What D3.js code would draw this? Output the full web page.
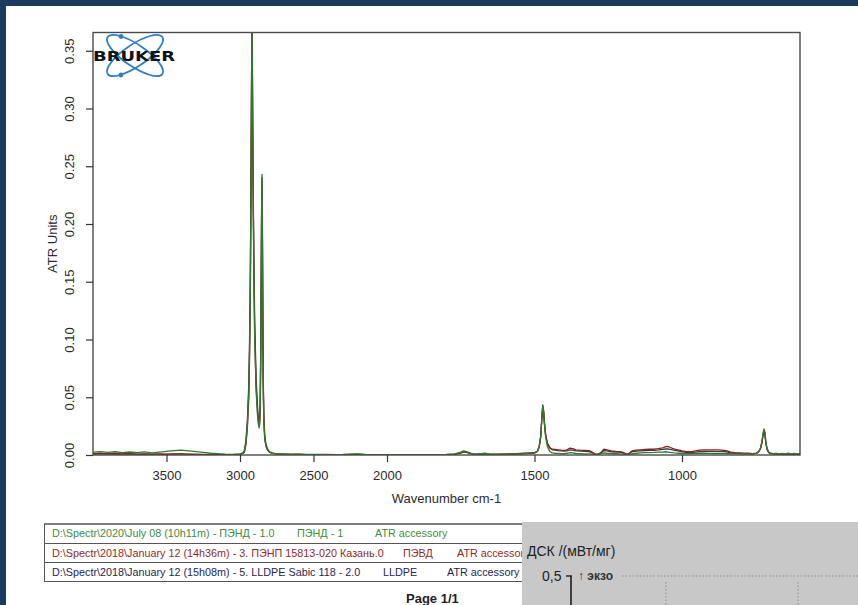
<!DOCTYPE html>
<html>
<head>
<meta charset="utf-8">
<script src="https://cdn.jsdelivr.net/npm/d3@7"></script>
<style>
  html, body { margin: 0; padding: 0; background: #1b3a5f; }
  svg { display: block; font-family: "Liberation Sans", Arial, sans-serif; }
</style>
</head>
<body>
<svg id="page" width="858" height="605"></svg>
<script>
// ---- Spectra: shared wavenumber grid (cm-1) and absorbance per sample ----
const wavenumbers = [
  4000, 3950, 3900, 3850, 3800, 3750, 3700, 3650, 3600, 3550,
  3500, 3450, 3400, 3350, 3300, 3250, 3200, 3150, 3100, 3050,
  3000, 2980, 2970, 2960, 2950, 2940, 2935, 2930, 2926, 2922,
  2919, 2916, 2912, 2906, 2900, 2890, 2880, 2874, 2870, 2866,
  2862, 2858, 2855, 2852, 2850, 2848, 2845, 2842, 2838, 2832,
  2824, 2812, 2800, 2780, 2750, 2700, 2650, 2600, 2550, 2500,
  2450, 2400, 2350, 2300, 2250, 2200, 2150, 2100, 2050, 2000,
  1950, 1900, 1850, 1800, 1770, 1750, 1740, 1730, 1715, 1700,
  1680, 1668, 1655, 1630, 1600, 1570, 1540, 1520, 1500, 1490,
  1484, 1479, 1475, 1472, 1469, 1466, 1462, 1456, 1448, 1440,
  1430, 1420, 1410, 1400, 1390, 1380, 1370, 1360, 1345, 1330,
  1315, 1305, 1295, 1285, 1275, 1265, 1255, 1240, 1225, 1210,
  1200, 1190, 1180, 1170, 1155, 1140, 1125, 1110, 1095, 1080,
  1065, 1055, 1048, 1040, 1025, 1010, 1000, 985, 970, 955,
  940, 925, 910, 895, 880, 865, 850, 835, 820, 805,
  790, 775, 760, 748, 740, 734, 729, 725, 722, 719,
  716, 712, 706, 698, 690, 680, 670, 660, 650, 640,
  630, 620, 610, 600
];

// ПЭНД - 1
const hdpe = [
  0.0025, 0.003, 0.0022, 0.0028, 0.002, 0.0026, 0.0021, 0.0027, 0.0018, 0.0025,
  0.0032, 0.0038, 0.0042, 0.0036, 0.003, 0.0022, 0.0015, 0.0012, 0.0008, 0.0006,
  0.001, 0.0018, 0.003, 0.01, 0.025, 0.055, 0.09, 0.14, 0.22, 0.31,
  0.38, 0.34, 0.25, 0.16, 0.10, 0.055, 0.033, 0.026, 0.0235, 0.027,
  0.045, 0.10, 0.17, 0.235, 0.243, 0.205, 0.125, 0.06, 0.03, 0.014,
  0.008, 0.004, 0.0025, 0.0015, 0.001, 0.0008, 0.0006, 0.0007, 0.0005, 0.0006,
  0.0005, 0.0006, 0.0004, 0.0005, 0.0008, 0.001, 0.0006, 0.0004, 0.0003, 0.0003,
  0.0003, 0.0004, 0.0003, 0.0005, 0.001, 0.0025, 0.0035, 0.003, 0.0015, 0.0008,
  0.0012, 0.0015, 0.001, 0.0008, 0.0006, 0.0008, 0.001, 0.0012, 0.0015, 0.003,
  0.007, 0.016, 0.033, 0.0435, 0.038, 0.026, 0.015, 0.007, 0.003, 0.0018,
  0.0015, 0.0014, 0.0012, 0.0012, 0.0015, 0.002, 0.0018, 0.0013, 0.0012, 0.001,
  0.001, 0.0008, 0.0006, 0.0006, 0.0012, 0.0018, 0.0015, 0.0012, 0.0011, 0.001,
  0.0008, 0.0006, 0.0006, 0.001, 0.0015, 0.0018, 0.002, 0.002, 0.0022, 0.0025,
  0.0025, 0.0028, 0.0025, 0.0022, 0.0018, 0.0015, 0.0012, 0.0012, 0.0013, 0.0014,
  0.0015, 0.0015, 0.0014, 0.0013, 0.0012, 0.0012, 0.0012, 0.0011, 0.001, 0.001,
  0.0009, 0.0009, 0.001, 0.0015, 0.003, 0.006, 0.012, 0.019, 0.0226, 0.02,
  0.012, 0.006, 0.0025, 0.0015, 0.0012, 0.0015, 0.0008, 0.0014, 0.001, 0.0016,
  0.0009, 0.0015, 0.001, 0.0013
];

// ПЭВД (ПЭНП 15813-020)
const ldpe = [
  0.0012, 0.0015, 0.001, 0.0014, 0.0009, 0.0012, 0.0008, 0.001, 0.0007, 0.0009,
  0.0008, 0.0009, 0.001, 0.0008, 0.0006, 0.0005, 0.0004, 0.0004, 0.0003, 0.0003,
  0.0006, 0.0012, 0.0025, 0.009, 0.023, 0.05, 0.085, 0.135, 0.21, 0.30,
  0.37, 0.335, 0.25, 0.165, 0.105, 0.058, 0.035, 0.028, 0.025, 0.028,
  0.046, 0.10, 0.165, 0.228, 0.236, 0.2, 0.125, 0.062, 0.031, 0.015,
  0.008, 0.0042, 0.0025, 0.0014, 0.0009, 0.0006, 0.0005, 0.0005, 0.0004, 0.0004,
  0.0004, 0.0004, 0.0003, 0.0004, 0.0005, 0.0006, 0.0004, 0.0003, 0.0002, 0.0002,
  0.0002, 0.0003, 0.0003, 0.0004, 0.0008, 0.002, 0.003, 0.0025, 0.0012, 0.0006,
  0.0009, 0.001, 0.0008, 0.0006, 0.0008, 0.001, 0.0015, 0.0018, 0.002, 0.0035,
  0.0075, 0.016, 0.032, 0.0425, 0.0375, 0.027, 0.017, 0.01, 0.0065, 0.005,
  0.0048, 0.0045, 0.0042, 0.004, 0.0045, 0.006, 0.0055, 0.0045, 0.0042, 0.004,
  0.0038, 0.0025, 0.001, 0.0008, 0.002, 0.005, 0.0045, 0.0035, 0.0032, 0.003,
  0.0022, 0.001, 0.0012, 0.0035, 0.0042, 0.0045, 0.0048, 0.005, 0.005, 0.0055,
  0.0062, 0.0072, 0.0075, 0.0065, 0.005, 0.0042, 0.0035, 0.003, 0.0028, 0.0035,
  0.0042, 0.0045, 0.0045, 0.0044, 0.0044, 0.0042, 0.0038, 0.0025, 0.002, 0.0018,
  0.0016, 0.0015, 0.0012, 0.0016, 0.003, 0.0055, 0.011, 0.018, 0.0215, 0.019,
  0.011, 0.0055, 0.0022, 0.0012, 0.001, 0.0009, 0.0008, 0.0008, 0.0007, 0.0008,
  0.0007, 0.0008, 0.0007, 0.0008
];

// LLDPE Sabic 118
const lldpe = [
  0.0008, 0.001, 0.0009, 0.0008, 0.0007, 0.0008, 0.0006, 0.0007, 0.0006, 0.0006,
  0.0006, 0.0007, 0.0007, 0.0006, 0.0005, 0.0004, 0.0004, 0.0003, 0.0003, 0.0003,
  0.0008, 0.0016, 0.004, 0.012, 0.03, 0.062, 0.1, 0.15, 0.225, 0.31,
  0.375, 0.34, 0.26, 0.175, 0.115, 0.065, 0.04, 0.031, 0.028, 0.031,
  0.05, 0.105, 0.17, 0.232, 0.24, 0.205, 0.13, 0.068, 0.035, 0.018,
  0.0095, 0.005, 0.003, 0.0016, 0.001, 0.0007, 0.0005, 0.0005, 0.0004, 0.0004,
  0.0004, 0.0004, 0.0003, 0.0004, 0.0004, 0.0005, 0.0004, 0.0003, 0.0002, 0.0002,
  0.0002, 0.0002, 0.0003, 0.0003, 0.0006, 0.0016, 0.0028, 0.0022, 0.001, 0.0005,
  0.0007, 0.0009, 0.0007, 0.0005, 0.0007, 0.0009, 0.0012, 0.0014, 0.0018, 0.0032,
  0.0072, 0.0155, 0.031, 0.042, 0.037, 0.027, 0.017, 0.0095, 0.006, 0.0045,
  0.0042, 0.0038, 0.0035, 0.0033, 0.0036, 0.0045, 0.0042, 0.0036, 0.0034, 0.0032,
  0.003, 0.002, 0.0008, 0.0006, 0.0015, 0.0038, 0.0035, 0.0028, 0.0026, 0.0025,
  0.0018, 0.0008, 0.001, 0.0028, 0.0034, 0.0036, 0.0038, 0.004, 0.0041, 0.0044,
  0.0048, 0.0052, 0.0053, 0.0048, 0.004, 0.0034, 0.0028, 0.0022, 0.002, 0.0024,
  0.003, 0.0032, 0.0032, 0.0031, 0.003, 0.003, 0.0028, 0.0018, 0.0015, 0.0014,
  0.0012, 0.0012, 0.001, 0.0014, 0.0028, 0.0052, 0.0105, 0.0175, 0.021, 0.0185,
  0.0105, 0.005, 0.002, 0.0011, 0.0009, 0.0008, 0.0007, 0.0007, 0.0006, 0.0007,
  0.0006, 0.0007, 0.0006, 0.0007
];

// ---- Axis ticks ----
const xTickValues = [3500, 3000, 2500, 2000, 1500, 1000];
const yTickValues = [0.00, 0.05, 0.10, 0.15, 0.20, 0.25, 0.30, 0.35];

// ---- Legend table rows ----
const legendFiles = [
  "D:\\Spectr\\2020\\July 08 (10h11m) - ПЭНД - 1.0",
  "D:\\Spectr\\2018\\January 12 (14h36m) - 3. ПЭНП 15813-020 Казань.0",
  "D:\\Spectr\\2018\\January 12 (15h08m) - 5. LLDPE Sabic 118 - 2.0"
];
const legendSamples = ["ПЭНД - 1", "ПЭВД", "LLDPE"];
const legendAccessories = ["ATR accessory", "ATR accessory", "ATR accessory"];

// ---- Drawing ----
const svg = d3.select("#page");
const colors = ["#3f8a3f", "#8e2a2a", "#26264e"];      // legend text per row
const lineColors = ["#2f7a2f", "#8a1e1e", "#3a3a48"];  // spectrum strokes per row
const seriesValues = [hdpe, ldpe, lldpe];

// page background (white sheet on navy)
svg.append("rect").attr("x", 0).attr("y", 0).attr("width", 858).attr("height", 605).attr("fill", "#1b3a5f");
svg.append("rect").attr("x", 6).attr("y", 6).attr("width", 852).attr("height", 599).attr("fill", "#ffffff");

const plot = { left: 93, right: 800, top: 32.5, bottom: 455 };

// OPUS-style x axis: 2000-4000 cm-1 compressed 2:1 relative to the region below 2000
const x = d3.scaleLinear()
  .domain([4000, 2000, 600])
  .range([plot.left, 387, plot.right]);
const y = d3.scaleLinear()
  .domain([0, 0.3658])
  .range([plot.bottom, plot.top]);

svg.append("clipPath").attr("id", "plotClip")
  .append("rect")
  .attr("x", plot.left).attr("y", plot.top)
  .attr("width", plot.right - plot.left).attr("height", plot.bottom - plot.top);

const line = d3.line()
  .x(d => x(d[0]))
  .y(d => y(d[1]));

const gLines = svg.append("g").attr("clip-path", "url(#plotClip)");
// draw LLDPE first, HDPE last so the green trace sits on top
[2, 1, 0].forEach(i => {
  const pts = wavenumbers.map((w, k) => [w, seriesValues[i][k]]);
  gLines.append("path")
    .datum(pts)
    .attr("d", line)
    .attr("fill", "none")
    .attr("stroke", lineColors[i])
    .attr("stroke-width", 1.3)
    .attr("stroke-linejoin", "round");
});

// frame
svg.append("rect")
  .attr("x", plot.left).attr("y", plot.top)
  .attr("width", plot.right - plot.left).attr("height", plot.bottom - plot.top)
  .attr("fill", "none").attr("stroke", "#4a4a4a").attr("stroke-width", 1.4);

// x axis
const gx = svg.append("g")
  .attr("transform", `translate(0,${plot.bottom})`)
  .call(d3.axisBottom(x).tickValues(xTickValues).tickSize(7).tickPadding(9).tickFormat(d3.format("d")));
gx.select(".domain").remove();
gx.selectAll(".tick line").attr("stroke", "#333").attr("stroke-width", 1.2);
gx.selectAll(".tick text").attr("fill", "#2a2a2a").style("font-size", "13px")
  .style("font-family", "'Liberation Sans', Arial, sans-serif");

// y axis (labels rotated, R style)
const gy = svg.append("g")
  .attr("transform", `translate(${plot.left},0)`)
  .call(d3.axisLeft(y).tickValues(yTickValues).tickSize(7).tickFormat(d3.format(".2f")));
gy.select(".domain").remove();
gy.selectAll(".tick line").attr("stroke", "#333").attr("stroke-width", 1.2);
gy.selectAll(".tick text")
  .attr("fill", "#2a2a2a").style("font-size", "13px")
  .style("font-family", "'Liberation Sans', Arial, sans-serif")
  .attr("x", null).attr("dy", null)
  .attr("text-anchor", "middle")
  .attr("transform", "translate(-24,0) rotate(-90)")
  .attr("dy", "0.35em");

// axis titles
svg.append("text")
  .attr("x", (plot.left + plot.right) / 2).attr("y", 503)
  .attr("text-anchor", "middle").attr("fill", "#2a2a2a").style("font-size", "13px")
  .text("Wavenumber cm-1");
svg.append("text")
  .attr("transform", `translate(57,${(plot.top + plot.bottom) / 2}) rotate(-90)`)
  .attr("text-anchor", "middle").attr("fill", "#2a2a2a").style("font-size", "13px")
  .text("ATR Units");

// Bruker logo
const logo = svg.append("g");
const lc = [135, 55.5];
[-34, 34].forEach(a => {
  logo.append("ellipse")
    .attr("cx", lc[0]).attr("cy", lc[1]).attr("rx", 33).attr("ry", 11)
    .attr("transform", `rotate(${a},${lc[0]},${lc[1]})`)
    .attr("fill", "none").attr("stroke", "#2f7fc6").attr("stroke-width", 1.8);
});
logo.append("circle").attr("cx", 121).attr("cy", 36.5).attr("r", 2.4).attr("fill", "#2f7fc6");
logo.append("circle").attr("cx", 121).attr("cy", 75).attr("r", 2.4).attr("fill", "#2f7fc6");
logo.append("text")
  .attr("x", 93).attr("y", 61)
  .attr("textLength", 82).attr("lengthAdjust", "spacingAndGlyphs")
  .style("font-family", "'DejaVu Sans', Arial, sans-serif")
  .style("font-weight", "bold").style("font-size", "14px")
  .attr("fill", "#111")
  .text("BRUKER");

// legend table
const rowTops = [524, 543.5, 562.5, 581.5];
const sampleX = [297, 403, 383];
const accessoryX = [375, 457, 447];
const tbl = svg.append("g");
rowTops.forEach((ry, i) => {
  tbl.append("line").attr("x1", 44).attr("x2", 560).attr("y1", ry).attr("y2", ry)
    .attr("stroke", "#555").attr("stroke-width", i === 0 ? 1.6 : 1);
});
tbl.append("line").attr("x1", 44.5).attr("x2", 44.5).attr("y1", rowTops[0]).attr("y2", rowTops[3])
  .attr("stroke", "#555").attr("stroke-width", 1);
legendFiles.forEach((f, i) => {
  const cy = (rowTops[i] + rowTops[i + 1]) / 2 + 3.7;
  const t = tbl.append("g").attr("fill", colors[i]).style("font-size", "10.8px");
  t.append("text").attr("x", 52).attr("y", cy).text(f);
  t.append("text").attr("x", sampleX[i]).attr("y", cy).text(legendSamples[i]);
  t.append("text").attr("x", accessoryX[i]).attr("y", cy).text(legendAccessories[i]);
});

svg.append("text")
  .attr("x", 406).attr("y", 603)
  .style("font-size", "13px").style("font-weight", "bold").attr("fill", "#222")
  .text("Page 1/1");

// DSC panel overlapping the lower right corner
const dsc = svg.append("g");
dsc.append("rect").attr("x", 522).attr("y", 522).attr("width", 336).attr("height", 83).attr("fill", "#c8c8c8");
dsc.append("text").attr("x", 527).attr("y", 556)
  .style("font-size", "14px").attr("fill", "#1e1e1e").text("ДСК /(мВт/мг)");
dsc.append("text").attr("x", 542).attr("y", 581)
  .style("font-size", "14px").attr("fill", "#1e1e1e").text("0,5");
dsc.append("line").attr("x1", 566).attr("x2", 571.5).attr("y1", 576).attr("y2", 576)
  .attr("stroke", "#1e1e1e").attr("stroke-width", 1.4);
dsc.append("line").attr("x1", 571).attr("x2", 571).attr("y1", 575.5).attr("y2", 605)
  .attr("stroke", "#1e1e1e").attr("stroke-width", 1.6);
dsc.append("text").attr("x", 578).attr("y", 580)
  .style("font-size", "12px").style("font-weight", "bold").attr("fill", "#333").text("↑ экзо");
dsc.append("line").attr("x1", 622).attr("x2", 858).attr("y1", 576).attr("y2", 576)
  .attr("stroke", "#8a8a8a").attr("stroke-width", 1).attr("stroke-dasharray", "1.5,2");
[666, 798].forEach(vx => {
  dsc.append("line").attr("x1", vx).attr("x2", vx).attr("y1", 582).attr("y2", 605)
    .attr("stroke", "#8a8a8a").attr("stroke-width", 1).attr("stroke-dasharray", "1.5,2");
});
</script>
</body>
</html>
